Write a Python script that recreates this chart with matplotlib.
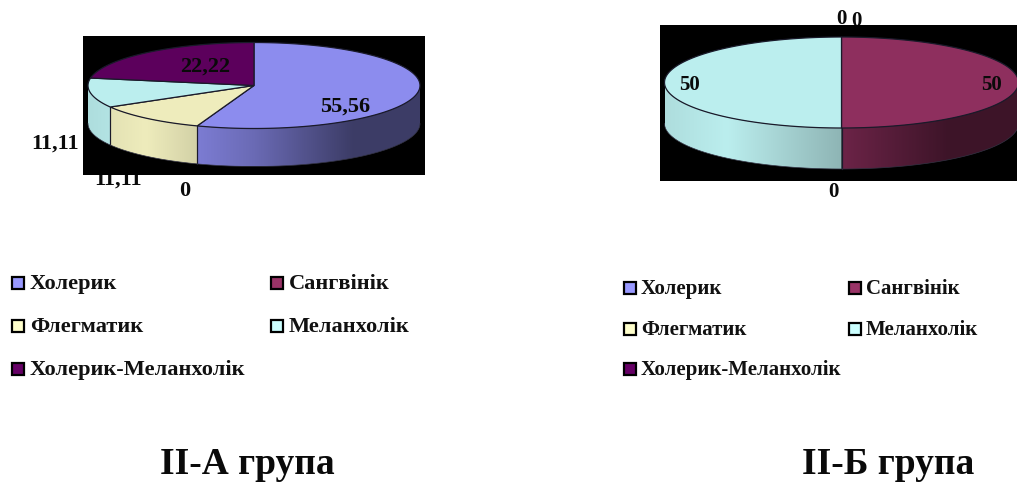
import numpy as np
import matplotlib
matplotlib.use("Agg")
import matplotlib.pyplot as plt
from matplotlib.colors import to_rgb
from matplotlib.patches import Polygon, Rectangle

plt.rcParams['font.family'] = ['Liberation Serif', 'DejaVu Serif']
plt.rcParams['font.weight'] = 'bold'

categories = ['Холерик', 'Сангвінік', 'Флегматик', 'Меланхолік', 'Холерик-Меланхолік']
colors = ['#8c8cee', '#8e2f5e', '#eeecbc', '#bbeeee', '#5c005c']
swatch_colors = ['#9999ff', '#993366', '#ffffcc', '#ccffff', '#660066']

group_a_values = [55.56, 0, 11.11, 11.11, 22.22]
group_b_values = [0, 50, 0, 50, 0]
group_a_labels = ['55,56', '0', '11,11', '11,11', '22,22']
group_b_labels = ['0', '50', '0', '50', '0']


def wall(ax, col, a0, a1, cx, cy, rx, ry, depth):
    # front side of a slice: horizontal gradient clipped to the wall outline
    th = np.radians(np.linspace(a0, a1, 120))
    xs = cx + rx * np.sin(th)
    ys = cy - ry * np.cos(th)
    outline = np.vstack([np.column_stack([xs, ys]),
                         np.column_stack([xs[::-1], ys[::-1] + depth])])
    left, right = xs.min(), xs.max()
    top, bottom = ys.min(), ys.max() + depth
    grid = np.linspace(left, right, 300)
    f = np.interp((grid - cx) / rx, [-1, -0.65, 0, 0.6, 1], [0.93, 1.0, 0.76, 0.43, 0.43])
    img = np.array(to_rgb(col))[None, None, :] * f[None, :, None]
    im = ax.imshow(img, extent=[left, right, bottom, top], aspect='auto', zorder=3,
                   interpolation='bilinear')
    clip = Polygon(outline, closed=True, transform=ax.transData, fc='none', ec='none')
    ax.add_patch(clip)
    im.set_clip_path(clip)


def pie3d(ax, values, cx, cy, rx, ry, depth):
    edge = '#1a1a2a'
    total = sum(values)
    start = 0.0
    tops = []
    for val, col in zip(values, colors):
        end = start + val / total * 360
        if val > 0:
            # angles run clockwise from 12 o'clock
            th = np.radians(np.linspace(start, end, 181))
            xs = cx + rx * np.sin(th)
            ys = cy - ry * np.cos(th)
            tops.append((np.column_stack([np.r_[cx, xs], np.r_[cy, ys]]), col))
            a0, a1 = max(start, 90), min(end, 270)
            if a1 > a0:
                wall(ax, col, a0, a1, cx, cy, rx, ry, depth)
            for a in (start, end):
                t = np.radians(a)
                if np.cos(t) < -0.01:
                    x0 = cx + rx * np.sin(t)
                    y0 = cy - ry * np.cos(t)
                    ax.plot([x0, x0], [y0, y0 + depth], color=edge, lw=0.8, zorder=4)
        start = end
    # lower rim of the disc
    th = np.radians(np.linspace(90, 270, 200))
    ax.plot(cx + rx * np.sin(th), cy - ry * np.cos(th) + depth, color='#333344', lw=0.5, zorder=4)
    for pts, col in tops:
        ax.add_patch(Polygon(pts, closed=True, fc=col, ec=edge, lw=0.9, zorder=5))


def legend(ax, xs, ys, tx, size):
    slots = [(0, 0), (1, 0), (0, 1), (1, 1), (0, 2)]
    for name, col, (c, r) in zip(categories, swatch_colors, slots):
        ax.add_patch(Rectangle((xs[c] - 6, ys[r] - 6), 12, 12, fc=col, ec='black', lw=1.6, zorder=6))
        ax.text(xs[c] + tx, ys[r] + 1, name, fontsize=size, va='center', ha='left', color='#111111')


fig = plt.figure(figsize=(10.17, 4.82), dpi=100)
ax = fig.add_axes([0, 0, 1, 1])
ax.axis('off')

# black plot backgrounds, labels outside them sit underneath
ax.add_patch(Rectangle((83, 36), 342, 139, fc='black', ec='none', zorder=2))
ax.add_patch(Rectangle((660, 25), 357, 156, fc='black', ec='none', zorder=2))

pie3d(ax, group_a_values, 254, 85.5, 166, 43, 38)
pie3d(ax, group_b_values, 841.5, 82.5, 177, 45.5, 41)

a_pos = [(345, 107, 6), (185, 191, 6), (118, 180, 1), (55, 144, 1), (205, 67, 6)]
for s, (x, y, z) in zip(group_a_labels, a_pos):
    ax.text(x, y, s, fontsize=16, ha='center', va='center', color='#0a0a0a', zorder=z)

b_pos = [(856, 21, 1), (992, 85, 6), (833, 192, 1), (690, 85, 6), (841, 19, 1)]
for s, (x, y, z) in zip(group_b_labels, b_pos):
    ax.text(x, y, s, fontsize=15, ha='center', va='center', color='#0a0a0a', zorder=z)

legend(ax, [18, 277], [283, 326, 369], 12, 16.1)
legend(ax, [630, 855], [288, 329, 369], 11, 15)

ax.text(247, 464, 'ІІ-А група', fontsize=27, ha='center', va='center', color='#0a0a0a')
ax.text(888, 464, 'ІІ-Б група', fontsize=27, ha='center', va='center', color='#0a0a0a')

# imshow resets the limits, so the pixel-based frame is set last
ax.set_xlim(0, 1017)
ax.set_ylim(482, 0)

fig.savefig('out.png', dpi=100)
